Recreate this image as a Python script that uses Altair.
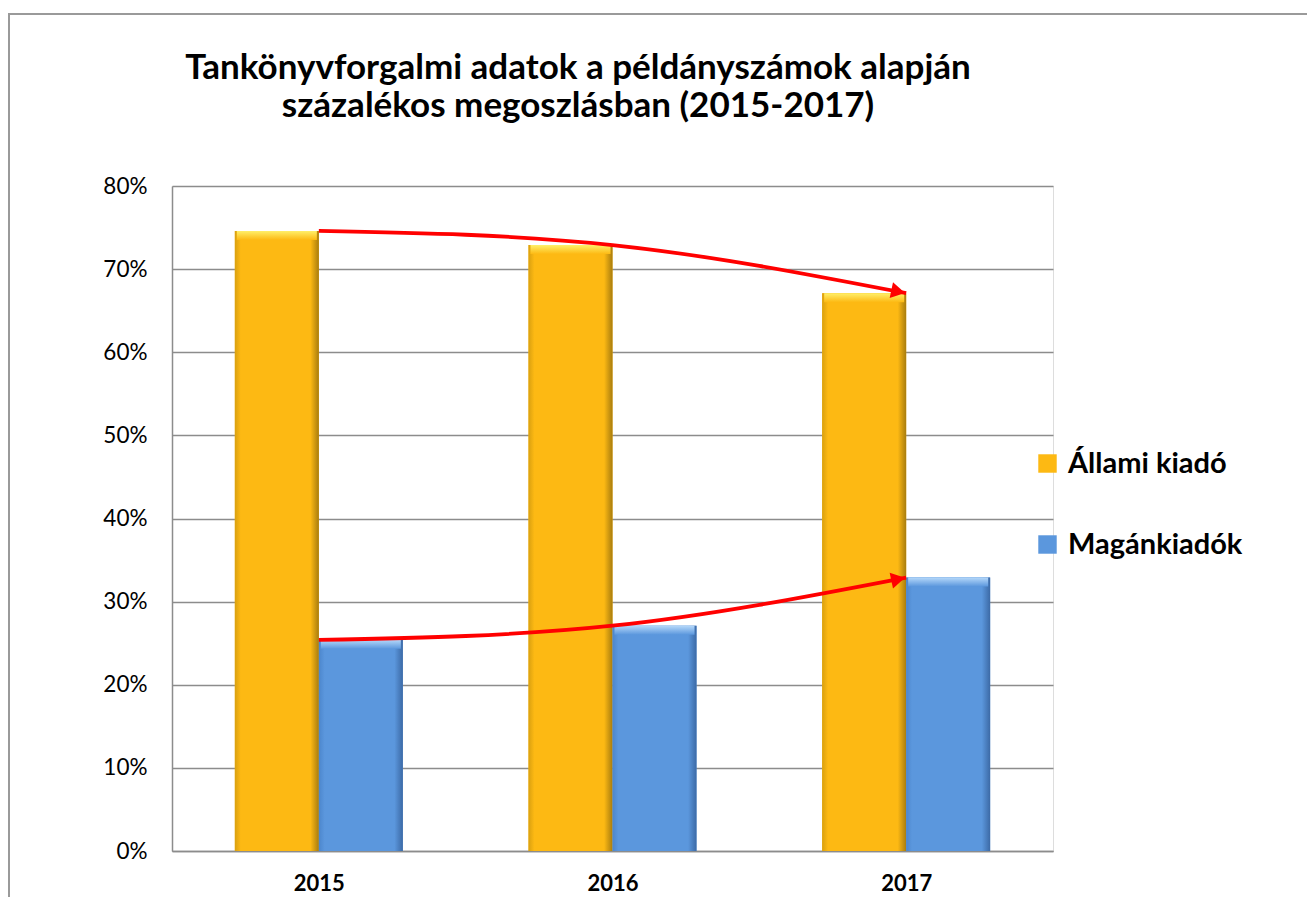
import json
import altair as alt
import pandas as pd

# ---- data ----
years = ["2015", "2016", "2017"]
series_names = ["Állami kiadó", "Magánkiadók"]
allami = [74.6, 72.9, 67.1]
magan = [25.4, 27.1, 32.9]
y_ticks = [0, 10, 20, 30, 40, 50, 60, 70, 80]
title_lines = ["Tankönyvforgalmi adatok a példányszámok alapján",
               "százalékos megoszlásban (2015-2017)"]

# ---- styling ----
FONT = "Lato"
BAR_W = 0.286
YELLOW = "#FDB913"
BLUE = "#5B97DD"
GRID = "#8c8c8c"

rows = []
for i, yr in enumerate(years):
    rows.append(dict(year=yr, idx=i, series=series_names[0], value=allami[i],
                     x0=i - BAR_W, x1=i))
    rows.append(dict(year=yr, idx=i, series=series_names[1], value=magan[i],
                     x0=i, x1=i + BAR_W))
bars_df = pd.DataFrame(rows)

line_df = pd.DataFrame(
    [dict(idx=i, value=v, series=series_names[0]) for i, v in enumerate(allami)]
    + [dict(idx=i, value=v, series=series_names[1]) for i, v in enumerate(magan)]
)
head_df = line_df[line_df["idx"] == len(years) - 1].copy()

x_axis = alt.Axis(
    values=list(range(len(years))),
    labelExpr=json.dumps(years) + "[datum.value]",
    title=None, grid=False, ticks=False,
    domain=True, domainColor=GRID, domainWidth=1.5,
    labelFont=FONT, labelFontWeight="bold", labelFontSize=22,
    labelColor="black", labelPadding=22,
)
y_axis = alt.Axis(
    values=y_ticks, labelExpr="datum.value + '%'", title=None,
    grid=True, gridColor=GRID, gridWidth=1.5, ticks=False,
    domain=True, domainColor=GRID, domainWidth=1.5,
    labelFont=FONT, labelFontSize=22.5, labelColor="black", labelPadding=25,
)
x_scale = alt.Scale(domain=[-0.5, len(years) - 0.5], nice=False, zero=False)
y_scale = alt.Scale(domain=[0, 80], nice=False)

X = alt.X("x0:Q", scale=x_scale, axis=x_axis)
Y = alt.Y("value:Q", scale=y_scale, axis=y_axis)

base = alt.Chart(bars_df)

legend_layer = base.mark_rect().encode(
    x=X, x2="x1:Q", y=Y, y2=alt.datum(0),
    color=alt.Color(
        "series:N",
        scale=alt.Scale(domain=series_names, range=[YELLOW, BLUE]),
        legend=alt.Legend(
            orient="none", legendX=861, legendY=263, title=None,
            symbolType="square", symbolSize=340, symbolStrokeWidth=0,
            labelFont=FONT, labelFontWeight="bold", labelFontSize=29,
            labelColor="black", rowPadding=51, labelOffset=6, labelLimit=400,
        ),
    ),
)


def grad_h(left, mid, right):
    return alt.Gradient(
        gradient="linear", x1=0, x2=1, y1=0, y2=0,
        stops=[alt.GradientStop(color=left, offset=0),
               alt.GradientStop(color=mid, offset=0.07),
               alt.GradientStop(color=mid, offset=0.9),
               alt.GradientStop(color=right, offset=1)],
    )


def grad_v(top, bottom):
    return alt.Gradient(
        gradient="linear", x1=0, x2=0, y1=0, y2=1,
        stops=[alt.GradientStop(color=top, offset=0),
               alt.GradientStop(color=bottom, offset=1)],
    )


styles = {
    series_names[0]: (grad_h("#D9A010", YELLOW, "#A87C0E"), grad_v("#FFF06A", YELLOW)),
    series_names[1]: (grad_h("#4C86CC", BLUE, "#3C6AA6"), grad_v("#B5D8FA", BLUE)),
}

bar_layers = []
for name in series_names:
    body, bevel = styles[name]
    sel = base.transform_filter(alt.datum.series == name)
    bar_layers.append(
        sel.mark_rect(fill=body).encode(x=X, x2="x1:Q", y=Y, y2=alt.datum(0))
    )
    bar_layers.append(
        sel.mark_rect(fill=bevel, y2Offset=9, xOffset=2, x2Offset=-2).encode(
            x=X, x2="x1:Q", y=Y, y2="value:Q")
    )

arrow_layers = []
for name, ang in zip(series_names, [12, 348]):
    ldf = line_df[line_df["series"] == name]
    hdf = head_df[head_df["series"] == name]
    arrow_layers.append(
        alt.Chart(ldf).mark_line(color="#FF0000", strokeWidth=3.8,
                                 interpolate="natural").encode(
            x=alt.X("idx:Q", scale=x_scale, axis=x_axis),
            y=alt.Y("value:Q", scale=y_scale, axis=y_axis),
        )
    )
    arrow_layers.append(
        alt.Chart(hdf).mark_point(shape="triangle-right", filled=True,
                                  color="#FF0000", opacity=1, size=260,
                                  angle=ang, xOffset=-8,
                                  yOffset=(-1.7 if ang < 180 else 1.7)).encode(
            x=alt.X("idx:Q", scale=x_scale, axis=x_axis),
            y=alt.Y("value:Q", scale=y_scale, axis=y_axis),
        )
    )

one = pd.DataFrame({"k": [0]})

frame = alt.Chart(one).mark_rect(
    filled=False, stroke="#9a9a9a", strokeWidth=2
).encode(
    x=alt.value(-163), x2=alt.value(1300),
    y=alt.value(-172), y2=alt.value(760),
)

title_mark = alt.Chart(one).mark_text(
    font=FONT, fontWeight="bold", fontSize=35, lineHeight=38,
    align="center", baseline="middle", color="black",
).encode(
    x=alt.value(406), y=alt.value(-118), text=alt.value(title_lines),
)

chart = alt.layer(legend_layer, *bar_layers, *arrow_layers, frame, title_mark).properties(
    width=881, height=665,
    padding={"left": 164, "top": 178, "right": 254, "bottom": 46},
    autosize=alt.AutoSizeParams(type="none"),
).configure_view(stroke=None).configure(background="white")

chart.save("out.html", embed_options={"renderer": "svg", "actions": False})
